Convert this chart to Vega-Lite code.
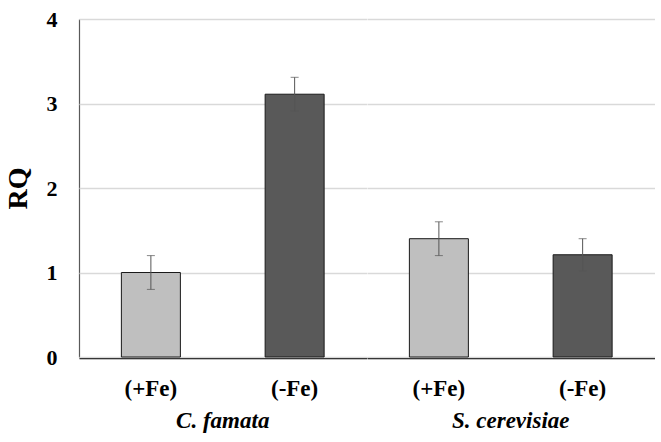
{
  "$schema": "https://vega.github.io/schema/vega-lite/v6.json",
  "padding": {"top": 8, "left": 4, "right": 6, "bottom": 5},
  "data": {
    "values": [
      {"species": "C. famata", "condition": "(+Fe)", "rq": 1.0, "lo": 0.8, "hi": 1.2},
      {"species": "C. famata", "condition": "(-Fe)", "rq": 3.11, "lo": 2.91, "hi": 3.31},
      {"species": "S. cerevisiae", "condition": "(+Fe)", "rq": 1.4, "lo": 1.2, "hi": 1.6},
      {"species": "S. cerevisiae", "condition": "(-Fe)", "rq": 1.21, "lo": 1.02, "hi": 1.4}
    ]
  },
  "facet": {
    "column": {
      "field": "species",
      "type": "nominal",
      "sort": ["C. famata", "S. cerevisiae"],
      "header": {
        "title": null,
        "labelOrient": "bottom",
        "labelFont": "Liberation Serif",
        "labelFontStyle": "italic",
        "labelFontWeight": "bold",
        "labelFontSize": 23,
        "labelColor": "#000000",
        "labelPadding": 10
      }
    }
  },
  "spacing": 0,
  "spec": {
    "width": 287.5,
    "height": 338,
    "encoding": {
      "x": {
        "field": "condition",
        "type": "nominal",
        "sort": ["(+Fe)", "(-Fe)"],
        "scale": {"paddingInner": 0, "paddingOuter": 0},
        "axis": {
          "title": null,
          "labelAngle": 0,
          "labelFont": "Liberation Serif",
          "labelFontWeight": "bold",
          "labelFontSize": 23,
          "labelColor": "#000000",
          "labelPadding": 19,
          "ticks": false,
          "domainColor": "#000000",
          "domainWidth": 1.5,
          "grid": false
        }
      }
    },
    "layer": [
      {
        "mark": {"type": "bar", "size": 59, "stroke": "#1a1a1a", "strokeWidth": 1},
        "encoding": {
          "y": {
            "field": "rq",
            "type": "quantitative",
            "scale": {"domain": [0, 4]},
            "axis": {
              "title": "RQ",
              "titleFont": "Liberation Serif",
              "titleFontWeight": "bold",
              "titleFontSize": 28,
              "titleColor": "#000000",
              "titlePadding": 14,
              "values": [0, 1, 2, 3, 4],
              "format": "d",
              "labelFont": "Liberation Serif",
              "labelFontWeight": "bold",
              "labelFontSize": 22,
              "labelColor": "#000000",
              "labelPadding": 22,
              "ticks": false,
              "domainColor": "#595959",
              "domainWidth": 1.2,
              "gridColor": "#d9d9d9",
              "gridWidth": 1.5
            }
          },
          "color": {
            "field": "condition",
            "type": "nominal",
            "scale": {"domain": ["(+Fe)", "(-Fe)"], "range": ["#bfbfbf", "#595959"]},
            "legend": null
          }
        }
      },
      {
        "mark": {"type": "rule", "color": "#555555", "strokeWidth": 1},
        "encoding": {
          "y": {"field": "lo", "type": "quantitative"},
          "y2": {"field": "hi"}
        }
      },
      {
        "mark": {"type": "tick", "color": "#555555", "size": 8, "thickness": 1},
        "encoding": {"y": {"field": "hi", "type": "quantitative"}}
      },
      {
        "mark": {"type": "tick", "color": "#555555", "size": 8, "thickness": 1},
        "encoding": {"y": {"field": "lo", "type": "quantitative"}}
      }
    ]
  },
  "config": {
    "view": {"stroke": null},
    "background": "#ffffff"
  }
}
